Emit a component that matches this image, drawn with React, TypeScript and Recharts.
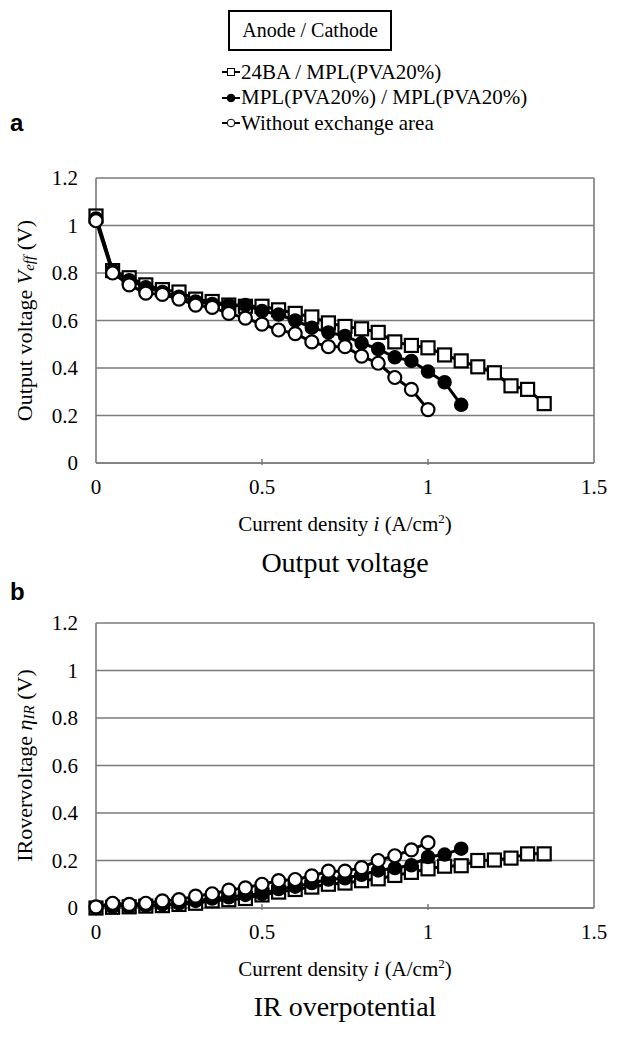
import React from 'react';
import { LineChart, Line, XAxis, YAxis, CartesianGrid, ReferenceLine } from 'recharts';

const FONT = '"Liberation Serif", "Times New Roman", serif';
const SANS = '"Liberation Sans", Arial, sans-serif';

const current = [0, 0.05, 0.1, 0.15, 0.2, 0.25, 0.3, 0.35, 0.4, 0.45, 0.5, 0.55, 0.6, 0.65, 0.7, 0.75, 0.8, 0.85, 0.9, 0.95, 1, 1.05, 1.1, 1.15, 1.2, 1.25, 1.3, 1.35];

const voltage24BA = [1.04, 0.81, 0.78, 0.75, 0.73, 0.72, 0.69, 0.68, 0.665, 0.66, 0.66, 0.645, 0.63, 0.615, 0.59, 0.575, 0.565, 0.55, 0.51, 0.495, 0.485, 0.455, 0.43, 0.405, 0.38, 0.325, 0.31, 0.25];
const voltageMPL = [1.03, 0.81, 0.77, 0.74, 0.72, 0.7, 0.68, 0.67, 0.665, 0.665, 0.64, 0.625, 0.6, 0.57, 0.55, 0.535, 0.505, 0.48, 0.445, 0.43, 0.385, 0.34, 0.245];
const voltageWithout = [1.02, 0.8, 0.75, 0.715, 0.71, 0.69, 0.665, 0.655, 0.63, 0.61, 0.585, 0.56, 0.545, 0.51, 0.49, 0.49, 0.45, 0.42, 0.36, 0.31, 0.225];

const irv24BA = [0, 0.003, 0.005, 0.008, 0.01, 0.015, 0.02, 0.03, 0.035, 0.04, 0.055, 0.067, 0.078, 0.088, 0.1, 0.105, 0.115, 0.123, 0.137, 0.15, 0.165, 0.176, 0.178, 0.2, 0.202, 0.21, 0.228, 0.228];
const irvMPL = [0, 0.005, 0.005, 0.01, 0.015, 0.02, 0.03, 0.04, 0.045, 0.055, 0.06, 0.08, 0.09, 0.105, 0.12, 0.125, 0.14, 0.158, 0.168, 0.18, 0.215, 0.225, 0.25];
const irvWithout = [0.005, 0.02, 0.015, 0.02, 0.03, 0.035, 0.05, 0.06, 0.075, 0.085, 0.1, 0.115, 0.12, 0.135, 0.155, 0.155, 0.17, 0.2, 0.22, 0.245, 0.275];

const seriesNames = ['24BA / MPL(PVA20%)', 'MPL(PVA20%) / MPL(PVA20%)', 'Without exchange area'];
const xTicks = [0, 0.5, 1, 1.5];
const yTicks = [0, 0.2, 0.4, 0.6, 0.8, 1, 1.2];

const toPoints = (vals: number[]) => vals.map((v, i) => ({ x: current[i], y: v }));

const GRID = '#7a7a7a';
const serif = { fontFamily: FONT };

const SquareDot = (p: any) => {
  if (p.cx == null || p.cy == null) return <g key={p.index} />;
  return <rect key={p.index} x={p.cx - 6.5} y={p.cy - 6.5} width={13} height={13} fill="#fff" stroke="#000" strokeWidth={2.2} />;
};

const XTick = (p: any) => {
  const { x, y, payload } = p;
  return (
    <g>
      {payload.value > 0 && payload.value < 1.5 ? <line x1={x} x2={x} y1={y - 6} y2={y} stroke={GRID} strokeWidth={1.5} /> : null}
      <text x={x} y={y + 29} textAnchor="middle" style={serif} fontSize={21} fill="#000">{String(payload.value)}</text>
    </g>
  );
};

const YTick = (p: any) => {
  const { x, y, payload } = p;
  return (
    <text x={x - 16} y={y + 7} textAnchor="end" style={serif} fontSize={21} fill="#000">{String(payload.value)}</text>
  );
};

const xLabel = (p: any) => {
  const vb = p.viewBox;
  const cx = vb.x + vb.width / 2;
  return (
    <text x={cx} y={vb.y + 68} textAnchor="middle" style={serif} fontSize={21} fill="#000">
      Current density <tspan fontStyle="italic">i</tspan> (A/cm<tspan fontSize={13} dy={-8}>2</tspan><tspan dy={8}>)</tspan>
    </text>
  );
};

const yLabelA = (p: any) => {
  const vb = p.viewBox;
  const cx = 24;
  const cy = vb.y + vb.height / 2;
  return (
    <text x={cx} y={cy} transform={`rotate(-90 ${cx} ${cy})`} textAnchor="middle" dominantBaseline="central" style={serif} fontSize={22} fill="#000">
      Output voltage <tspan fontStyle="italic">V</tspan><tspan fontStyle="italic" fontSize={15} dy={5}>eff</tspan><tspan dy={-5}> (V)</tspan>
    </text>
  );
};

const yLabelB = (p: any) => {
  const vb = p.viewBox;
  const cx = 24;
  const cy = vb.y + vb.height / 2;
  return (
    <text x={cx} y={cy} transform={`rotate(-90 ${cx} ${cy})`} textAnchor="middle" dominantBaseline="central" style={serif} fontSize={22} fill="#000">
      IRovervoltage <tspan fontStyle="italic">η</tspan><tspan fontStyle="italic" fontSize={15} dy={5}>IR</tspan><tspan dy={-5}> (V)</tspan>
    </text>
  );
};

type PanelProps = { top: number; a: number[]; b: number[]; c: number[]; yLabel: any };

const Panel = ({ top, a, b, c, yLabel }: PanelProps) => (
  <div style={{ position: 'absolute', left: 0, top }}>
    <LineChart width={619} height={540} margin={{ top: 178, right: 25, bottom: 17, left: 0 }}>
      <CartesianGrid vertical={false} stroke={GRID} strokeWidth={1.6} />
      <XAxis type="number" dataKey="x" domain={[0, 1.5]} ticks={xTicks} tick={<XTick />} tickLine={false} tickSize={0} height={60}
        axisLine={{ stroke: GRID, strokeWidth: 1.6 }} allowDuplicatedCategory={false} label={{ content: xLabel }} />
      <YAxis type="number" dataKey="y" domain={[0, 1.2]} ticks={yTicks} tick={<YTick />} tickLine={false} tickSize={0} width={96}
        axisLine={{ stroke: GRID, strokeWidth: 1.6 }} label={{ content: yLabel }} />
      <ReferenceLine x={1.5} stroke={GRID} strokeWidth={1.6} ifOverflow="extendDomain" />
      <Line data={toPoints(a)} dataKey="y" name={seriesNames[0]} stroke="#000" strokeWidth={3} dot={<SquareDot />} isAnimationActive={false} />
      <Line data={toPoints(b)} dataKey="y" name={seriesNames[1]} stroke="#000" strokeWidth={3} dot={{ r: 6.5, fill: '#000', stroke: '#000', strokeWidth: 1.5 }} isAnimationActive={false} />
      <Line data={toPoints(c)} dataKey="y" name={seriesNames[2]} stroke="#000" strokeWidth={3} dot={{ r: 6.5, fill: '#fff', stroke: '#000', strokeWidth: 2.2 }} isAnimationActive={false} />
    </LineChart>
  </div>
);

const LegendIcon = ({ kind }: { kind: number }) => (
  <svg width={18} height={12} style={{ marginRight: 1 }}>
    <line x1={0} x2={18} y1={6} y2={6} stroke="#000" strokeWidth={2} />
    {kind === 0 ? <rect x={5.5} y={2.5} width={7} height={7} fill="#fff" stroke="#000" strokeWidth={1} /> :
      <circle cx={9} cy={6} r={3.8} fill={kind === 1 ? '#000' : '#fff'} stroke="#000" strokeWidth={1} />}
  </svg>
);

export default function App() {
  return (
    <div style={{ position: 'absolute', left: 0, top: 0, width: 619, height: 1039, background: '#fff', overflow: 'hidden', fontFamily: FONT }}>
      <Panel top={0} a={voltage24BA} b={voltageMPL} c={voltageWithout} yLabel={yLabelA} />
      <Panel top={445} a={irv24BA} b={irvMPL} c={irvWithout} yLabel={yLabelB} />
      <div style={{ position: 'absolute', left: 228, top: 10, width: 160, height: 37, border: '2px solid #000', fontFamily: FONT, fontSize: 20, lineHeight: '37px', textAlign: 'center' }}>
        Anode / Cathode
      </div>
      {seriesNames.map((n, i) => (
        <div key={n} style={{ position: 'absolute', left: 222, top: 59 + i * 25.5, height: 26, display: 'flex', alignItems: 'center', fontFamily: FONT, fontSize: 21, whiteSpace: 'nowrap' }}>
          <LegendIcon kind={i} />{n}
        </div>
      ))}
      <div style={{ position: 'absolute', left: 10, top: 109, fontFamily: SANS, fontWeight: 'bold', fontSize: 24 }}>a</div>
      <div style={{ position: 'absolute', left: 10, top: 578, fontFamily: SANS, fontWeight: 'bold', fontSize: 24 }}>b</div>
      <div style={{ position: 'absolute', left: 96, width: 498, top: 547, textAlign: 'center', fontFamily: FONT, fontSize: 28 }}>Output voltage</div>
      <div style={{ position: 'absolute', left: 96, width: 498, top: 991, textAlign: 'center', fontFamily: FONT, fontSize: 28 }}>IR overpotential</div>
    </div>
  );
}
